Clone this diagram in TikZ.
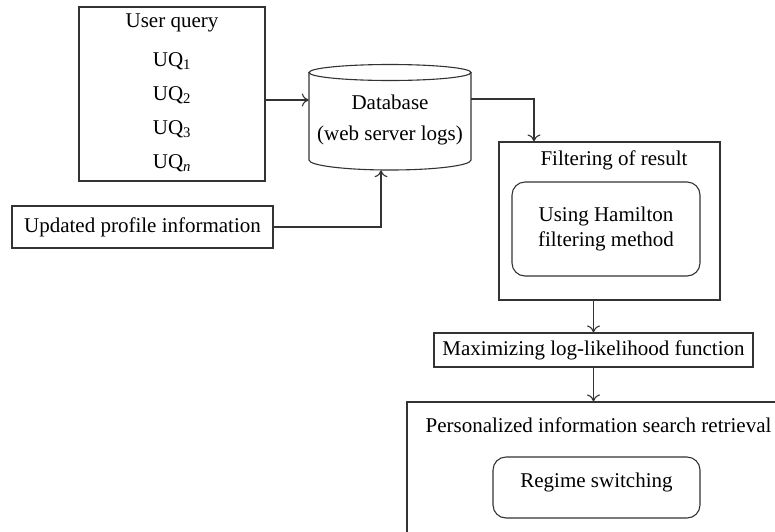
\documentclass[tikz,border=0pt]{standalone}
\usepackage{fontspec}
\setmainfont{Liberation Serif}
\usetikzlibrary{arrows.meta}
\definecolor{ln}{HTML}{333333}
\begin{document}
\begin{tikzpicture}[x=1pt,y=-1pt,
  every node/.style={font=\fontsize{21}{25}\selectfont, text=black, inner sep=0pt},
  box/.style={draw=ln, line width=1.1pt},
  rbox/.style={draw=ln, line width=1.1pt, rounded corners=13pt},
  arr/.style={draw=ln, line width=1.1pt, -{To[length=7pt,width=13pt]}},
  lbl/.style={anchor=center, align=center}]
\useasboundingbox (0,0) rectangle (775,531);
% user query
\node[box, minimum width=186pt, minimum height=174pt] (uq) at (172,94) {};
\node[lbl] (t0) at (172,23) {User query};
\node[lbl] (t1) at (172,61) {UQ\textsubscript{1}};
\node[lbl] (t2) at (172,95) {UQ\textsubscript{2}};
\node[lbl] (t3) at (172,129) {UQ\textsubscript{3}};
\node[lbl] (t4) at (172,163) {UQ\textsubscript{\textit{n}}};
% database cylinder
\draw[ln, line width=1.1pt] (390,72.5) ellipse [x radius=81, y radius=8];
\draw[ln, line width=1.1pt] (309,72.5) -- (309,160) arc[start angle=180, end angle=0, x radius=81, y radius=10] -- (471,72.5);
\node[minimum width=162pt, minimum height=105pt] (db) at (390,117.5) {};
\node[lbl] (dbt) at (390,120) {Database\\[6pt](web server logs)};
% updated profile
\node[box, minimum width=261pt, minimum height=42pt] (upd) at (142.5,227) {Updated profile information};
% filter
\node[box, minimum width=221pt, minimum height=158pt] (filt) at (609.5,221) {};
\node[lbl] (ft) at (614,160) {Filtering of result};
\node[rbox, minimum width=188pt, minimum height=94pt, align=center] (ham) at (606,229) {Using Hamilton\\filtering method};
% max
\node[box, minimum width=319pt, minimum height=34pt] (max) at (593.5,350) {Maximizing log-likelihood function};
% personalized
\node[box, minimum width=383pt, minimum height=150pt] (pers) at (598.5,477) {};
\node[lbl] (pt) at (598.5,425) {Personalized information search retrieval};
\node[rbox, minimum width=207pt, minimum height=61pt] (rs) at (596.5,487.5) {};
\node[lbl] (rst) at (596.5,482) {Regime switching};
% connectors
\coordinate (uqout) at (265,100);
\draw[arr] (uqout) -- (uqout -| db.west);
\draw[arr] (upd.east) -| ([xshift=-9pt]db.south);
\draw[arr] ([yshift=18.5pt]db.east) -| ([xshift=-75.5pt]filt.north);
\draw[arr] (filt.south -| max.north) -- (max.north);
\draw[arr] (max.south) -- (max.south |- pers.north);
\end{tikzpicture}
\end{document}
